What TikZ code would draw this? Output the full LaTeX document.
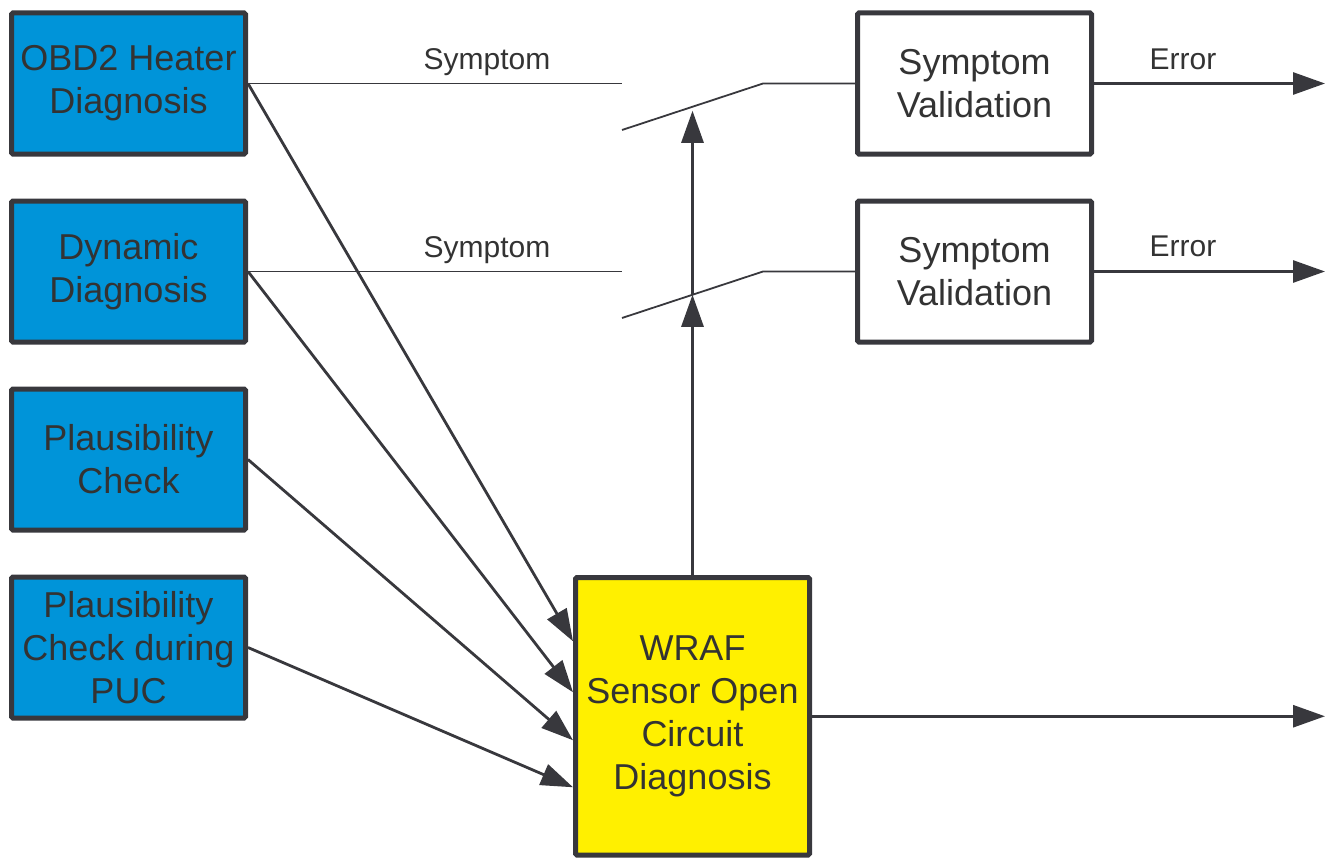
\documentclass[tikz,border=0pt]{standalone}
\usepackage{fontspec}
\setmainfont{Liberation Sans}
\usetikzlibrary{arrows.meta,calc}
\definecolor{ink}{HTML}{38383D}
\definecolor{txt}{HTML}{333333}
\definecolor{bluefill}{HTML}{0094D9}
\definecolor{yellowfill}{HTML}{FFF000}
\begin{document}
\begin{tikzpicture}[x=1pt,y=-1pt,
  box/.style={draw=ink,line width=5pt,rounded corners=1.5pt,inner sep=0pt,
    minimum width=234pt,minimum height=141pt,align=center,text=txt,
    font=\fontsize{36}{43}\selectfont},
  srcbox/.style={box,fill=bluefill},
  valbox/.style={box,fill=white},
  mainbox/.style={box,fill=yellowfill,minimum height=277.5pt},
  conn/.style={draw=ink,line width=2.8pt,-{Triangle[length=32pt,width=22pt]}},
  wire/.style={draw=ink,line width=1.8pt},
  lbl/.style={text=txt,inner sep=0pt,font=\fontsize{30}{36}\selectfont}]
\useasboundingbox (0,0) rectangle (1335,859);

% source diagnoses
\node[srcbox] (obd) at (128.5,83.5) {OBD2 Heater\\Diagnosis};
\node[srcbox] (dyn) at (128.5,271.5) {Dynamic\\Diagnosis};
\node[srcbox] (pla) at (128.5,459.5) {Plausibility\\Check};
\node[srcbox] (puc) at (128.5,647.5) {Plausibility\\Check during\\PUC};

% open circuit diagnosis
\node[mainbox] (wraf) at (692.5,716.25) {WRAF\\Sensor Open\\Circuit\\Diagnosis};

% symptom validation
\node[valbox] (val1) at (974.5,83.5) {Symptom\\Validation};
\node[valbox] (val2) at (974.5,271.5) {Symptom\\Validation};

% switch contacts
\coordinate (in1) at (622,83.5);
\coordinate (in2) at (622,271.5);
\coordinate (lo1) at (622,130);
\coordinate (lo2) at (622,318);
\coordinate (pv1) at (763,83.5);
\coordinate (pv2) at (763,271.5);
\coordinate (c1) at ($(lo1)!0.5!(pv1)$);
\coordinate (c2) at ($(lo2)!0.5!(pv2)$);

\draw[wire] (obd.east) -- (in1);
\draw[wire] (dyn.east) -- (in2);
\draw[wire] (lo1) -- (pv1) -- (val1.west);
\draw[wire] (lo2) -- (pv2) -- (val2.west);

\node[lbl] (sym1) at (487,62) {Symptom};
\node[lbl] (sym2) at (487,250) {Symptom};

% actuation of the switches
\draw[conn] (wraf.north) -- (c2);
\draw[conn,shorten >=4pt] (c2) -- (c1);

% inputs to the open circuit diagnosis
\draw[conn] (obd.east) -- ([yshift=75pt]wraf.west);
\draw[conn] (dyn.east) -- ([yshift=24pt]wraf.west);
\draw[conn] (pla.east) -- ([yshift=-24pt]wraf.west);
\draw[conn] (puc.east) -- ([yshift=-71pt]wraf.west);

% outputs
\coordinate (out1) at (1325,83.5);
\coordinate (out2) at (1325,271.5);
\coordinate (out3) at (1325,716.25);
\draw[conn] (val1.east) -- (out1);
\draw[conn] (val2.east) -- (out2);
\draw[conn] (wraf.east) -- (out3);
\node[lbl] (err1) at (1183,59) {Error};
\node[lbl] (err2) at (1183,246) {Error};
\end{tikzpicture}
\end{document}
